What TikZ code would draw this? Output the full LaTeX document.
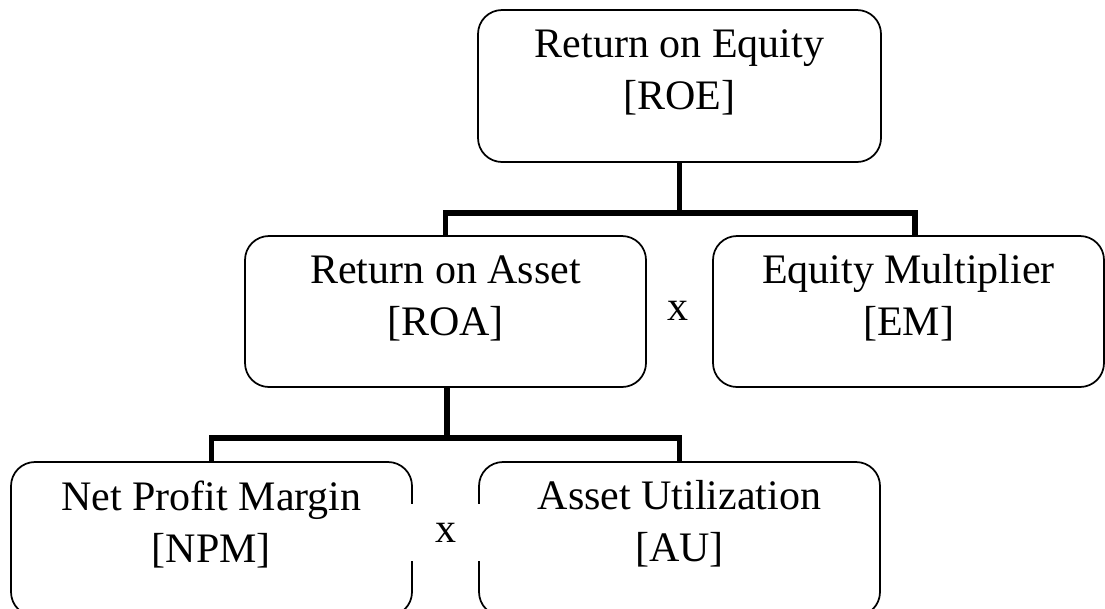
\documentclass[tikz,border=0pt]{standalone}
\usepackage{fontspec}
\setmainfont{Liberation Serif}
\begin{document}
\begin{tikzpicture}[x=0.75pt, y=-0.75pt,
  box/.style={draw, line width=1.3pt, rounded corners=18pt, inner sep=0pt,
              minimum width=300.75pt, minimum height=113.25pt},
  boxtext/.style={align=center, inner sep=0pt, font=\fontsize{31.5}{39}\selectfont},
  times/.style={inner sep=0pt, font=\fontsize{31.5}{39}\selectfont},
  link/.style={line width=4.1pt}
]
\useasboundingbox (0,0) rectangle (1105,608);
\clip (0,0) rectangle (1105,608);

% boxes
\node[box, minimum width=302.25pt, minimum height=114pt] (roe) at (679.5,86) {};
\node[box] (roa) at (445.5,311.5) {};
\node[box, minimum width=293.25pt] (em) at (908.5,311.5) {};
\node[box, minimum height=115.5pt] (npm) at (211.5,539) {};
\node[box, minimum height=115.5pt] (au) at (679.5,539) {};

% box texts
\node[boxtext] (roe-t) at ([yshift=-47.25pt]roe.north) {Return on Equity\\{}[ROE]};
\node[boxtext] (roa-t) at ([yshift=-47.25pt]roa.north) {Return on Asset\\{}[ROA]};
\node[boxtext] (em-t)  at ([yshift=-47.25pt]em.north)  {Equity Multiplier\\{}[EM]};
\node[boxtext] (npm-t) at ([yshift=-47.25pt]npm.north) {Net Profit Margin\\{}[NPM]};
\node[boxtext] (au-t)  at ([yshift=-47.25pt]au.north)  {Asset Utilization\\{}[AU]};

% multiplication signs
\node[times] (x1) at (678,311) {x};
\node[times, fill=white, minimum width=52.5pt, minimum height=42.75pt] (x2) at (445.5,532.5) {x};

% connectors
\coordinate (j1) at ([yshift=-37.5pt]roe.south);
\coordinate (j2) at ([yshift=-37.5pt,xshift=1pt]roa.south);
\coordinate (emtop) at ([xshift=4.9pt]em.north);
\draw[link] (roe.south) -- (j1);
\draw[link] (roa.north) |- (j1) -| (emtop);
\draw[link] ([xshift=1pt]roa.south) -- (j2);
\draw[link] (npm.north) |- (j2) -| (au.north);
\end{tikzpicture}
\end{document}
